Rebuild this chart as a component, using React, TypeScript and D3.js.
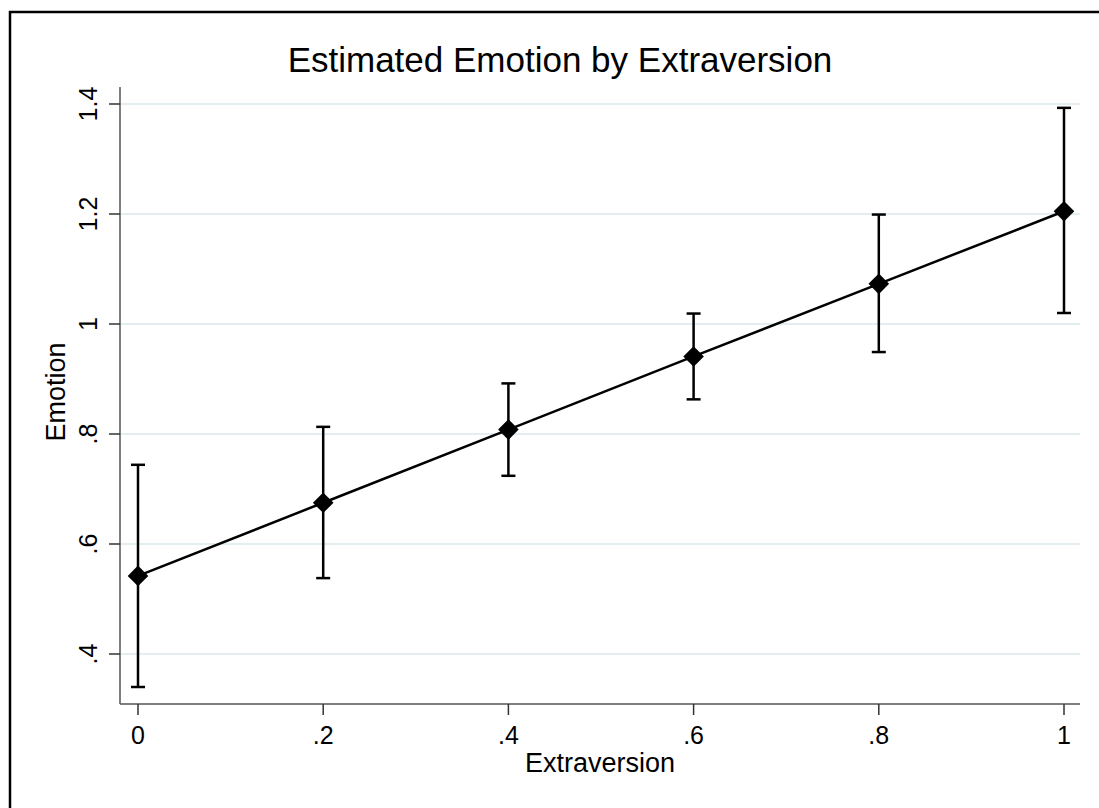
import React from 'react';
import * as d3 from 'd3';

const xValues = [0, 0.2, 0.4, 0.6, 0.8, 1];
const estimates = [0.542, 0.675, 0.808, 0.941, 1.073, 1.205];
const lowerCI = [0.34, 0.538, 0.724, 0.863, 0.949, 1.02];
const upperCI = [0.744, 0.813, 0.892, 1.019, 1.199, 1.393];
const xTicks = [0, 0.2, 0.4, 0.6, 0.8, 1];
const yTicks = [0.4, 0.6, 0.8, 1, 1.2, 1.4];

const WIDTH = 1099;
const HEIGHT = 808;
// plot region (axis lines)
const PLOT = { left: 120, right: 1080, top: 87, bottom: 704 };

// Stata style labels: drop the leading zero
const fmt = (v: number) => {
  const s = d3.format('~g')(+v.toFixed(2));
  return s.startsWith('0.') ? s.slice(1) : s;
};

const FONT = '"Liberation Sans", Arial, sans-serif';

const App: React.FC = () => {
  const x = d3.scaleLinear().domain([0, 1]).range([138, 1064]);
  const y = d3.scaleLinear().domain([0.4, 1.4]).range([654, 104]);

  const pts = xValues.map((v, i) => ({ x: v, est: estimates[i], lo: lowerCI[i], hi: upperCI[i] }));
  const line = d3.line<typeof pts[0]>().x(d => x(d.x)).y(d => y(d.est));
  const diamond = d3.symbol().type(d3.symbolDiamond2).size(270)();
  const capHalf = 7;

  return (
    <svg width={WIDTH} height={HEIGHT} style={{ position: 'absolute', left: 0, top: 0, background: '#fff' }}>
      {/* outer frame */}
      <rect x={10} y={12} width={1300} height={1000} fill="#fff" stroke="#000" strokeWidth={2.5} />

      {/* title */}
      <text x={560} y={72} textAnchor="middle" fontFamily={FONT} fontSize={35} fill="#000">
        Estimated Emotion by Extraversion
      </text>

      {/* gridlines */}
      {yTicks.map(t => (
        <line key={'g' + t} x1={PLOT.left} x2={PLOT.right} y1={y(t)} y2={y(t)} stroke="#e4eef1" strokeWidth={2} />
      ))}

      {/* y axis */}
      <line x1={PLOT.left} x2={PLOT.left} y1={PLOT.top} y2={PLOT.bottom} stroke="#555" strokeWidth={1.5} />
      {yTicks.map(t => (
        <g key={'y' + t}>
          <line x1={PLOT.left - 11} x2={PLOT.left} y1={y(t)} y2={y(t)} stroke="#333" strokeWidth={1.5} />
          <text transform={`translate(97,${y(t)}) rotate(-90)`} textAnchor="middle" fontFamily={FONT} fontSize={25} fill="#000">
            {fmt(t)}
          </text>
        </g>
      ))}
      <text transform={`translate(65,392) rotate(-90)`} textAnchor="middle" fontFamily={FONT} fontSize={27} fill="#000">
        Emotion
      </text>

      {/* x axis */}
      <line x1={PLOT.left} x2={PLOT.right} y1={PLOT.bottom} y2={PLOT.bottom} stroke="#555" strokeWidth={1.5} />
      {xTicks.map(t => (
        <g key={'x' + t}>
          <line x1={x(t)} x2={x(t)} y1={PLOT.bottom} y2={PLOT.bottom + 11} stroke="#333" strokeWidth={1.5} />
          <text x={x(t)} y={744} textAnchor="middle" fontFamily={FONT} fontSize={25} fill="#000">
            {fmt(t)}
          </text>
        </g>
      ))}
      <text x={600} y={772} textAnchor="middle" fontFamily={FONT} fontSize={27} fill="#000">
        Extraversion
      </text>

      {/* fitted line */}
      <path d={line(pts) || ''} fill="none" stroke="#000" strokeWidth={2.5} />

      {/* confidence intervals */}
      {pts.map(d => (
        <g key={'ci' + d.x} stroke="#000" strokeWidth={2.5}>
          <line x1={x(d.x)} x2={x(d.x)} y1={y(d.lo)} y2={y(d.hi)} />
          <line x1={x(d.x) - capHalf} x2={x(d.x) + capHalf} y1={y(d.lo)} y2={y(d.lo)} />
          <line x1={x(d.x) - capHalf} x2={x(d.x) + capHalf} y1={y(d.hi)} y2={y(d.hi)} />
        </g>
      ))}

      {/* markers */}
      {pts.map(d => (
        <path key={'m' + d.x} d={diamond || ''} transform={`translate(${x(d.x)},${y(d.est)})`} fill="#000" />
      ))}
    </svg>
  );
};

export default App;
